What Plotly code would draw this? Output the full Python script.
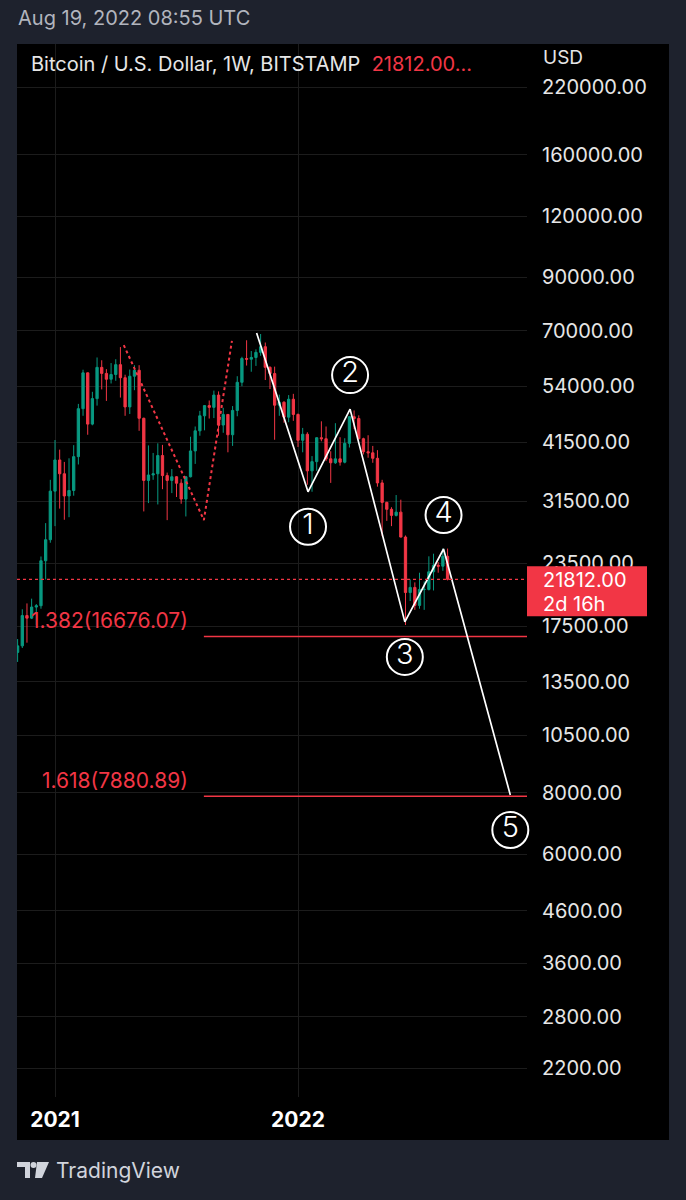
import math
import pandas as pd
import plotly.graph_objects as go

# ---------------- data (weekly BTC/USD, Bitstamp) ----------------
opens = [13550, 15480, 15960, 18400, 18180, 19150, 19270, 23800, 26270,
         33000, 38200, 35800, 32260, 33100, 38800, 48600, 57500, 45200, 50950, 59000, 57350, 55800,
         57050, 59750, 56200, 49000, 56600, 58200, 46450, 34700, 35600, 35800, 39000, 35500, 34700,
         35300, 34250, 31800, 35300, 39850, 43800, 47000, 49300, 48900, 51800, 45000, 47300, 43000,
         48200, 55000, 61500, 61300, 61800, 63300, 65000, 59000, 57300, 49400, 50100, 46700, 50800,
         47300, 41900, 43100, 36300, 37900, 42400, 42200, 38400, 37700, 38400, 37800, 41300, 46800,
         46400, 42200, 39700, 39500, 38500, 34300, 31300, 30300, 29450, 29900, 26600, 20500, 21000,
         19300, 20800, 20800, 22600, 23300, 23200, 24300]
highs = [15960, 16480, 18950, 19480, 19920, 19420, 24280, 28400, 34800,
         41950, 40100, 37850, 38500, 40950, 49700, 58350, 57600, 52600, 61800, 61000, 58500, 60200,
         61300, 64900, 57000, 58400, 59600, 59600, 46600, 40900, 39480, 41300, 41000, 36000, 36600,
         35400, 34900, 35400, 42600, 44700, 48100, 49400, 50500, 52900, 52700, 48800, 47400, 49200,
         56600, 62000, 67000, 63700, 64200, 69000, 66300, 59300, 59200, 51900, 50300, 51800, 52100,
         47500, 44400, 43500, 38900, 42500, 45800, 44700, 39800, 45400, 42500, 42300, 46900, 48200,
         47100, 42400, 42900, 40800, 40000, 34800, 31400, 30600, 32400, 31700, 26800, 21800, 21500,
         22500, 21600, 24300, 24600, 23650, 25200, 25200]
lows = [13200, 14800, 15800, 16200, 18100, 17600, 19000, 21800, 25900,
        28000, 30400, 28850, 29200, 32300, 37400, 47000, 43000, 44950, 49300, 53200, 50400, 54700,
        55400, 51200, 47000, 47400, 53000, 43800, 30000, 31200, 34800, 31000, 33300, 28800, 32700,
        32100, 31100, 29300, 35200, 37500, 42800, 43900, 46400, 46500, 42800, 43400, 39600, 40800,
        46900, 54000, 59500, 57800, 59400, 62300, 55600, 53300, 42000, 47000, 45500, 45600, 45900,
        40600, 39600, 34000, 32900, 36300, 41700, 38000, 34300, 37500, 37200, 37600, 40500, 44200,
        42100, 39200, 38600, 37700, 33700, 26700, 28700, 28000, 29300, 26550, 17600, 19700, 18900,
        19000, 18900, 20700, 20700, 22500, 22700, 21700]
closes = [15480, 15960, 18400, 18180, 19150, 19270, 23800, 26270, 33000,
          38200, 35800, 32260, 33100, 38800, 48600, 57500, 45200, 50950, 59000, 57350, 55800, 57050,
          59750, 56200, 49000, 56600, 58200, 46450, 34700, 35600, 35800, 39000, 35500, 34700, 35300,
          34250, 31800, 35300, 39850, 43800, 47000, 49300, 48900, 51800, 45000, 47300, 43000, 48200,
          55000, 61500, 61300, 61800, 63300, 65000, 59000, 57300, 49400, 50100, 46700, 50800, 47300,
          41900, 43100, 36300, 37900, 42400, 42200, 38400, 37700, 38400, 37800, 41300, 46800, 46400,
          42200, 39700, 39500, 38500, 34300, 31300, 30300, 29450, 29900, 26600, 20500, 21000, 19300,
          20800, 20800, 22600, 23300, 23200, 24300, 21812]
weeks = pd.date_range("2020-11-02", periods=len(closes), freq="7D")

last_price = 21812.00
price_ticks = [220000, 160000, 120000, 90000, 70000, 54000, 41500, 31500, 23500,
               17500, 13500, 10500, 8000, 6000, 4600, 3600, 2800, 2200]
year_ticks = ["2021-01-04", "2022-01-03"]
year_labels = ["2021", "2022"]

# Elliott wave drawing (white)
wave_dates = ["2021-11-02", "2022-01-18", "2022-03-22", "2022-06-12", "2022-08-09", "2022-11-17"]
wave_prices = [69300, 32900, 48500, 17860, 25150, 7925]
wave_labels = ["", "1", "2", "3", "4", "5"]
wave_side = [0, -1, 1, -1, 1, -1]  # label below (-1) / above (1)

# red dotted drawing
dot_dates = ["2021-04-17", "2021-08-15", "2021-09-26"]
dot_prices = [65500, 28800, 66800]

# Fibonacci levels
fib_start = "2021-08-15"
fib_end = "2023-06-01"
fib_levels = [16676.07, 7880.89]
fib_names = ["1.382", "1.618"]

# ---------------- layout helpers ----------------
W, H = 686, 1200
PL, PR, PT, PB = 17, 527, 44, 1097
YMIN, YMAX = 3.2833, 5.4301
PPD = (PB - PT) / (YMAX - YMIN)  # pixels per decade
RED = "#f23645"
GREEN = "#089981"
TXT = "#d1d4dc"
FONT = "Inter, Roboto, sans-serif"


def px(x):
    return (x - PL) / (PR - PL)


def py(y):
    return (PB - y) / (PB - PT)


def shifted(price, pixels):
    """price located `pixels` above (positive) the given price on the log axis"""
    return price * 10 ** (pixels / PPD)


fig = go.Figure()

fig.add_trace(go.Candlestick(
    x=weeks, open=opens, high=highs, low=lows, close=closes,
    increasing=dict(line=dict(color=GREEN, width=1), fillcolor=GREEN),
    decreasing=dict(line=dict(color=RED, width=1), fillcolor=RED),
    whiskerwidth=0, hoverinfo="skip", showlegend=False,
))

# red dotted polyline
fig.add_trace(go.Scatter(x=dot_dates, y=dot_prices, mode="lines",
                         line=dict(color=RED, width=2, dash="dot"),
                         hoverinfo="skip", showlegend=False))

# fib lines
for lvl in fib_levels:
    fig.add_trace(go.Scatter(x=[fib_start, fib_end], y=[lvl, lvl], mode="lines",
                             line=dict(color=RED, width=1.6),
                             hoverinfo="skip", showlegend=False))

# white wave line
fig.add_trace(go.Scatter(x=wave_dates, y=wave_prices, mode="lines",
                         line=dict(color="white", width=1.7),
                         hoverinfo="skip", showlegend=False))

# circled wave numbers
lab_x, lab_y, lab_t = [], [], []
for d, p, lab, s in zip(wave_dates, wave_prices, wave_labels, wave_side):
    if not lab:
        continue
    lab_x.append(d)
    lab_y.append(shifted(p, 34 if s > 0 else -35))
    lab_t.append(lab)
fig.add_trace(go.Scatter(x=lab_x, y=lab_y, mode="markers+text", text=lab_t,
                         textposition="middle center",
                         textfont=dict(family=FONT, size=29, color="white", weight=300),
                         marker=dict(symbol="circle-open", size=36,
                                     color="white", line=dict(color="white", width=2)),
                         cliponaxis=False, hoverinfo="skip", showlegend=False))

shapes = []
annotations = []

# panel background
shapes.append(dict(type="rect", xref="paper", yref="paper",
                   x0=px(17), x1=px(669), y0=py(1140), y1=py(44),
                   fillcolor="black", line=dict(width=0), layer="below"))

# last price dotted line
shapes.append(dict(type="line", xref="paper", x0=0, x1=1, yref="y",
                   y0=last_price, y1=last_price,
                   line=dict(color=RED, width=1.3, dash="dot")))

# fib labels
for lvl, name in zip(fib_levels, fib_names):
    annotations.append(dict(x=fib_start, y=math.log10(lvl), xref="x", yref="y",
                            text=f"{name}({lvl:.2f})", showarrow=False,
                            xanchor="right", yanchor="middle", xshift=-14, yshift=16,
                            font=dict(family=FONT, size=21, color=RED)))

# last price box
shapes.append(dict(type="rect", xref="paper", yref="y",
                   x0=1.0, x1=px(647),
                   y0=shifted(last_price, -37), y1=shifted(last_price, 13),
                   fillcolor=RED, line=dict(width=0), layer="above"))
annotations.append(dict(x=1.0, y=math.log10(last_price), xref="paper", yref="y",
                        text=f"{last_price:.2f}", showarrow=False,
                        xanchor="left", yanchor="middle", xshift=14, yshift=-1,
                        font=dict(family=FONT, size=20, color="white")))
annotations.append(dict(x=1.0, y=math.log10(last_price), xref="paper", yref="y",
                        text="2d 16h", showarrow=False,
                        xanchor="left", yanchor="middle", xshift=14, yshift=-25,
                        font=dict(family=FONT, size=20, color="white")))

# header texts
annotations.append(dict(x=px(16), y=py(18), xref="paper", yref="paper",
                        text="Aug 19, 2022 08:55 UTC", showarrow=False,
                        xanchor="left", yanchor="middle",
                        font=dict(family=FONT, size=20, color="#b2b5be")))
annotations.append(dict(x=px(29), y=py(64), xref="paper", yref="paper",
                        text=f"Bitcoin / U.S. Dollar, 1W, BITSTAMP  <span style='color:{RED}'>{last_price:.2f}...</span>",
                        showarrow=False, xanchor="left", yanchor="middle",
                        font=dict(family=FONT, size=20, color="#e6e6e6")))
annotations.append(dict(x=px(541), y=py(57), xref="paper", yref="paper",
                        text="USD", showarrow=False, xanchor="left", yanchor="middle",
                        font=dict(family=FONT, size=19, color="#e6e6e6")))
# footer
annotations.append(dict(x=px(54), y=py(1170), xref="paper", yref="paper",
                        text="TradingView", showarrow=False, xanchor="left", yanchor="middle",
                        font=dict(family=FONT, size=21, color=TXT)))
# TradingView logo
shapes.append(dict(type="path", xref="paper", yref="paper",
                   path=f"M {px(17)},{py(1162)} L {px(30)},{py(1162)} L {px(30)},{py(1178)} L {px(25)},{py(1178)} L {px(25)},{py(1167)} L {px(17)},{py(1167)} Z",
                   fillcolor=TXT, line=dict(width=0)))
shapes.append(dict(type="circle", xref="paper", yref="paper",
                   x0=px(30.5), x1=px(36.5), y0=py(1168), y1=py(1162),
                   fillcolor=TXT, line=dict(width=0)))
shapes.append(dict(type="path", xref="paper", yref="paper",
                   path=f"M {px(37)},{py(1162)} L {px(49)},{py(1162)} L {px(42)},{py(1178)} L {px(35)},{py(1178)} Z",
                   fillcolor=TXT, line=dict(width=0)))

fig.update_layout(
    width=W, height=H,
    margin=dict(l=PL, r=W - PR, t=PT, b=H - PB, pad=0),
    paper_bgcolor="#1e222d", plot_bgcolor="black",
    shapes=shapes, annotations=annotations,
    showlegend=False,
    hovermode=False,
    xaxis=dict(type="date", range=["2020-11-08 02:00", "2022-12-12"],
               rangeslider=dict(visible=False),
               tickvals=year_ticks, ticktext=year_labels,
               showgrid=True, gridcolor="#1c1c1c", gridwidth=1,
               zeroline=False, showline=False, ticks="",
               ticklabelstandoff=8,
               tickfont=dict(family=FONT, size=21, color="white", weight="bold")),
    yaxis=dict(type="log", range=[YMIN, YMAX], side="right",
               tickvals=price_ticks, ticktext=[f"{v:.2f}" for v in price_ticks],
               showgrid=True, gridcolor="#1c1c1c", gridwidth=1,
               zeroline=False, showline=False, ticks="",
               ticklabelstandoff=14,
               tickfont=dict(family=FONT, size=20, color="#e6e6e6")),
)

fig.write_html("out.html", config={"displayModeBar": False},
               post_script="document.body.style.margin='0';document.body.style.background='#1e222d';")
